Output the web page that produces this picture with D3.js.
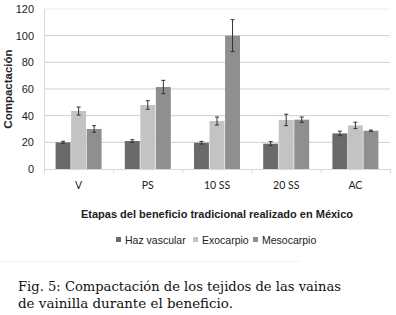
<!DOCTYPE html>
<html>
<head>
<meta charset="utf-8">
<script src="https://cdn.jsdelivr.net/npm/d3@7"></script>
<style>
  body { margin: 0; background: #fff; }
  svg { display: block; }
</style>
</head>
<body>
<svg id="chart"></svg>
<script>
const categories = ['V', 'PS', '10 SS', '20 SS', 'AC'];
const series = ['Haz vascular', 'Exocarpio', 'Mesocarpio'];
const haz_values = [20, 21, 19.7, 19, 26.7];
const exo_values = [43.5, 48, 36, 36.8, 32.7];
const meso_values = [30, 61.5, 100, 37, 28.7];
const haz_err = [0.8, 1, 1, 1.5, 1.7];
const exo_err = [3, 3.2, 3, 4.3, 2.4];
const meso_err = [2.5, 5, 12, 2, 0.5];
const y_ticks = [0, 20, 40, 60, 80, 100, 120];

const colors = ['#6a6a6a', '#c3c3c3', '#8f8f8f'];
const values = [haz_values, exo_values, meso_values];
const errors = [haz_err, exo_err, meso_err];

const width = 396, height = 315;
const margin = {top: 9, right: 6, bottom: 146, left: 44};
const inner_width = width - margin.left - margin.right;
const inner_height = height - margin.top - margin.bottom;

const svg = d3.select('#chart')
    .attr('width', width)
    .attr('height', height);

const chart = svg.append('g')
    .attr('transform', `translate(${margin.left}, ${margin.top})`);

const xscale = d3.scaleBand()
    .domain(categories)
    .range([0, inner_width]);

const xinner = d3.scaleBand()
    .domain(series)
    .range([0, 46])
    .paddingInner(0.04);

const yscale = d3.scaleLinear()
    .domain([0, 120])
    .range([inner_height, 0]);

// gridlines
chart.append('g')
    .selectAll('line')
    .data(y_ticks.slice(1))
    .join('line')
    .attr('x1', 0)
    .attr('x2', inner_width)
    .attr('y1', d => yscale(d))
    .attr('y2', d => yscale(d))
    .attr('stroke', d => d === 120 ? '#ececec' : '#cfcfcf')
    .attr('stroke-width', 1);

// y axis
const yaxis = d3.axisLeft(yscale)
    .tickValues(y_ticks)
    .tickSize(0)
    .tickPadding(10);

const yaxis_group = chart.append('g').call(yaxis);
yaxis_group.select('.domain').attr('stroke', '#d8d8d8');
yaxis_group.selectAll('text')
    .attr('font-family', 'Liberation Sans, Arial, sans-serif')
    .attr('font-size', 11)
    .attr('fill', '#222');

// bars
const groups = chart.append('g')
    .selectAll('g')
    .data(categories)
    .join('g')
    .attr('transform', d => `translate(${xscale(d) + (xscale.bandwidth() - 46) / 2}, 0)`);

series.forEach((s, si) => {
    groups.append('rect')
        .attr('x', xinner(s))
        .attr('width', xinner.bandwidth())
        .attr('y', (d, ci) => yscale(values[si][ci]))
        .attr('height', (d, ci) => inner_height - yscale(values[si][ci]))
        .attr('fill', colors[si]);

    const cx = xinner(s) + xinner.bandwidth() / 2;
    groups.append('line')
        .attr('x1', cx).attr('x2', cx)
        .attr('y1', (d, ci) => yscale(values[si][ci] + errors[si][ci]))
        .attr('y2', (d, ci) => yscale(values[si][ci] - errors[si][ci]))
        .attr('stroke', '#333').attr('stroke-width', 1);
    [1, -1].forEach(sign => {
        groups.append('line')
            .attr('x1', cx - 2).attr('x2', cx + 2)
            .attr('y1', (d, ci) => yscale(values[si][ci] + sign * errors[si][ci]))
            .attr('y2', (d, ci) => yscale(values[si][ci] + sign * errors[si][ci]))
            .attr('stroke', '#333').attr('stroke-width', 1);
    });
});

// x axis
const xaxis = d3.axisBottom(xscale)
    .tickSize(0)
    .tickPadding(13);

const xaxis_group = chart.append('g')
    .attr('transform', `translate(0, ${inner_height})`)
    .call(xaxis);
xaxis_group.select('.domain').attr('stroke', '#d8d8d8');
xaxis_group.selectAll('text')
    .attr('font-family', 'Lato, Open Sans, sans-serif')
    .attr('font-size', 10.5)
    .attr('fill', '#222');

// category separator ticks
chart.append('g')
    .selectAll('line')
    .data(categories.concat(['end']))
    .join('line')
    .attr('x1', (d, i) => i * xscale.bandwidth() + 0.5)
    .attr('x2', (d, i) => i * xscale.bandwidth() + 0.5)
    .attr('y1', inner_height)
    .attr('y2', inner_height + 4)
    .attr('stroke', '#d8d8d8');

// axis titles
svg.append('text')
    .attr('transform', 'translate(12, 89) rotate(-90)')
    .attr('text-anchor', 'middle')
    .attr('font-family', 'Liberation Sans, Arial, sans-serif')
    .attr('font-weight', 'bold')
    .attr('font-size', 11.5)
    .attr('fill', '#222')
    .text('Compactación');

svg.append('text')
    .attr('x', margin.left + inner_width / 2)
    .attr('y', 218)
    .attr('text-anchor', 'middle')
    .attr('font-family', 'Liberation Sans, Arial, sans-serif')
    .attr('font-weight', 'bold')
    .attr('font-size', 11)
    .attr('fill', '#222')
    .text('Etapas del beneficio tradicional realizado en México');

// legend
const legend_x = [116, 193, 253];
const legend = svg.append('g');
series.forEach((s, i) => {
    legend.append('rect')
        .attr('x', legend_x[i])
        .attr('y', 237)
        .attr('width', 5)
        .attr('height', 5)
        .attr('fill', colors[i]);
    legend.append('text')
        .attr('x', legend_x[i] + 9)
        .attr('y', 243.5)
        .attr('font-family', 'Liberation Sans, Arial, sans-serif')
        .attr('font-size', 10.5)
        .attr('fill', '#222')
        .text(s);
});

// faint border below the chart image
svg.append('line')
    .attr('x1', 0).attr('x2', 300)
    .attr('y1', 261.5).attr('y2', 261.5)
    .attr('stroke', '#f2f2f2');

// caption
const caption = svg.append('g')
    .attr('font-family', 'DejaVu Serif, Liberation Serif, serif')
    .attr('font-size', 13)
    .attr('fill', '#111');
caption.append('text')
    .attr('x', 18).attr('y', 291)
    .attr('textLength', 323)
    .attr('lengthAdjust', 'spacingAndGlyphs')
    .text('Fig. 5: Compactación de los tejidos de las vainas');
caption.append('text')
    .attr('x', 18).attr('y', 308)
    .attr('textLength', 215)
    .attr('lengthAdjust', 'spacingAndGlyphs')
    .text('de vainilla durante el beneficio.');
</script>
</body>
</html>
